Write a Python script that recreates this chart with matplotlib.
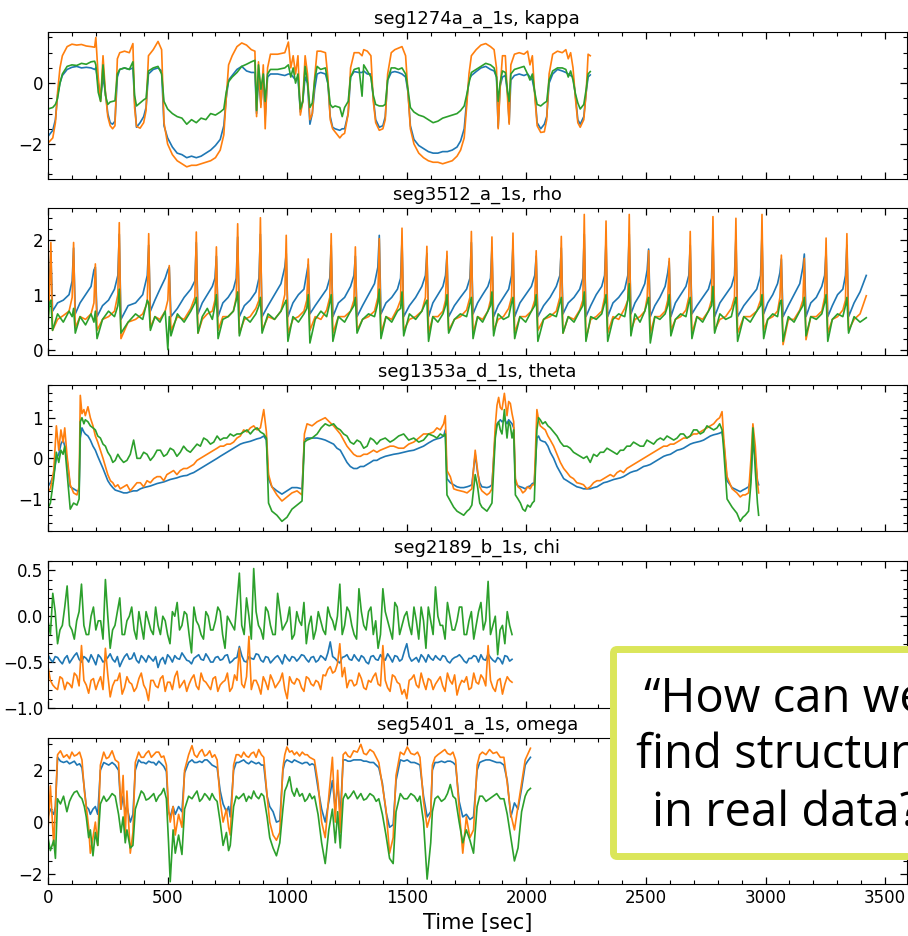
import numpy as np
import matplotlib
matplotlib.use("Agg")
import matplotlib.pyplot as plt
from matplotlib.ticker import MultipleLocator, AutoMinorLocator
from matplotlib.patches import FancyBboxPatch

# ---------------- panel 1: seg1274a_a_1s, kappa ----------------
t1 = [0, 20, 31, 40, 50, 60, 80, 100, 120, 140, 160, 180, 195, 200, 210, 220, 230, 240, 250, 260,
      270, 280, 290, 300, 320, 340, 355, 362, 370, 385, 400, 410, 420, 440, 460, 475, 485, 500, 520, 540,
      560, 580, 600, 620, 640, 660, 680, 700, 720, 735, 745, 755, 770, 790, 810, 830, 850, 865, 872, 880,
      890, 900, 908, 918, 930, 960, 990, 1005, 1015, 1025, 1035, 1045, 1055, 1065, 1075, 1085, 1095, 1105, 1115, 1125,
      1140, 1160, 1170, 1180, 1190, 1200, 1220, 1230, 1240, 1255, 1265, 1280, 1300, 1313, 1320, 1335, 1350, 1360, 1370, 1385,
      1400, 1410, 1420, 1435, 1450, 1465, 1480, 1495, 1505, 1515, 1530, 1550, 1570, 1590, 1610, 1630, 1650, 1670, 1690, 1710,
      1725, 1740, 1750, 1760, 1770, 1790, 1810, 1830, 1850, 1865, 1875, 1882, 1890, 1900, 1912, 1922, 1928, 1935, 1950, 1970,
      1990, 2005, 2015, 2025, 2035, 2045, 2060, 2075, 2085, 2095, 2110, 2130, 2150, 2165, 2175, 2185, 2195, 2205, 2215, 2225,
      2240, 2250, 2258, 2267]
blue1 = [-1.75, -1.55, -1.2, -0.4, 0.0, 0.25, 0.45, 0.52, 0.55, 0.5, 0.52, 0.5, 0.45, 0.5, 0.0, -0.5, 0.2, -0.3, -1.0, -1.3,
         -1.35, -1.25, 0.2, 0.45, 0.5, 0.45, 0.5, -0.6, -1.45, -1.3, -1.1, -0.8, 0.3, 0.45, 0.5, 0.4, -1.4, -1.8, -2.1, -2.3,
         -2.35, -2.45, -2.4, -2.45, -2.4, -2.3, -2.2, -2.05, -1.85, -1.4, -0.5, 0.1, 0.25, 0.45, 0.55, 0.4, 0.35, 0.35, -1.0, 0.2,
         -0.7, 0.3, -1.1, 0.2, 0.3, 0.3, 0.25, 0.3, 0.3, 0.2, 0.1, 0.2, -0.95, -0.6, 0.2, 0.0, -1.35, -1.0, -0.2, 0.3,
         0.35, 0.3, 0.0, -1.1, -1.45, -1.5, -1.55, -1.5, -1.5, -1.0, 0.2, 0.38, 0.35, 0.35, 0.4, 0.3, 0.3, -0.5, -1.2, -1.45,
         -1.4, -1.1, 0.1, 0.35, 0.38, 0.35, 0.3, 0.2, -0.3, -1.4, -1.85, -2.05, -2.15, -2.25, -2.3, -2.3, -2.25, -2.25, -2.2, -2.1,
         -1.9, -1.5, -0.6, 0.1, 0.25, 0.38, 0.5, 0.55, 0.45, 0.4, 0.2, -1.45, -0.1, 0.2, 0.25, -0.4, -1.3, 0.1, 0.25, 0.3,
         0.25, 0.3, 0.2, 0.1, -0.3, -1.3, -1.5, -1.35, -1.1, 0.0, 0.3, 0.45, 0.4, 0.35, 0.3, 0.25, 0.2, -0.4, -1.2, -1.35,
         -1.1, -0.3, 0.2, 0.27]
orange1 = [-1.97, -1.8, -1.3, -0.3, 0.5, 0.9, 1.2, 1.28, 1.25, 1.27, 1.22, 1.2, 1.18, 1.5, 0.2, -0.6, 0.9, -0.3, -1.1, -1.4,
           -1.5, -1.4, 0.8, 1.0, 1.05, 1.0, 1.3, -0.8, -1.42, -1.48, -1.3, -0.9, 0.9, 1.1, 1.37, 1.1, -1.3, -2.0, -2.35, -2.55,
           -2.65, -2.75, -2.7, -2.7, -2.65, -2.6, -2.55, -2.45, -2.2, -1.7, -0.5, 0.6, 0.9, 1.2, 1.32, 1.25, 1.1, 1.05, -1.1, 0.7,
           -0.8, 0.6, -1.5, 0.5, 0.95, 0.95, 1.0, 1.35, 0.5, 0.9, 0.3, 0.9, -1.05, -0.6, 0.9, 0.3, -1.2, -1.0, 0.2, 1.05,
           1.05, 1.0, 0.2, -1.2, -1.5, -1.6, -1.8, -1.7, -1.65, -1.0, 0.5, 1.0, 1.0, 0.9, 1.1, 1.05, 0.9, -0.6, -1.3, -1.55,
           -1.5, -1.2, 0.3, 1.0, 1.1, 1.15, 1.2, 0.9, -0.3, -1.5, -2.0, -2.3, -2.45, -2.55, -2.6, -2.6, -2.65, -2.6, -2.55, -2.4,
           -2.2, -1.8, -0.8, 0.3, 0.9, 1.1, 1.25, 1.3, 1.2, 1.1, 0.5, -1.5, -0.2, 0.9, 0.9, -0.6, -1.35, 0.6, 0.95, 1.0,
           0.95, 1.05, 0.6, 0.9, -0.4, -1.4, -1.62, -1.6, -1.2, 0.3, 0.95, 1.05, 1.0, 1.1, 0.8, 1.0, 0.5, -0.5, -1.3, -1.45,
           -1.2, -0.3, 0.95, 0.9]
green1 = [-0.85, -0.8, -0.7, -0.5, 0.0, 0.3, 0.55, 0.6, 0.58, 0.65, 0.62, 0.7, 0.72, 0.6, -0.3, -0.6, 0.6, -0.4, -0.7, -0.62,
          -0.6, -0.58, 0.3, 0.45, 0.5, 0.45, 0.7, -0.4, -0.75, -0.65, -0.55, -0.5, 0.4, 0.5, 0.55, 0.3, -0.6, -0.85, -1.0, -1.1,
          -1.15, -1.35, -1.2, -1.3, -1.15, -1.2, -1.0, -1.05, -0.95, -0.85, -0.3, 0.05, 0.2, 0.35, 0.55, 0.62, 0.7, 0.75, -0.9, 0.6,
          -0.2, 0.3, -0.6, 0.3, 0.45, 0.45, 0.5, 0.6, 0.2, 0.5, 0.0, 0.3, -0.85, -0.6, 0.55, 0.0, -0.8, -0.65, 0.1, 0.55,
          0.45, 0.5, 0.0, -0.7, -0.8, -0.75, -0.8, -1.1, -0.8, -0.6, 0.2, 0.45, 0.5, -0.43, 0.6, 0.4, 0.2, -0.4, -0.7, -0.75,
          -0.75, -0.7, 0.1, 0.5, 0.5, 0.45, 0.5, 0.3, -0.2, -0.8, -0.95, -1.05, -1.1, -1.2, -1.3, -1.25, -1.15, -1.1, -1.05, -1.0,
          -0.9, -0.75, -0.4, 0.0, 0.35, 0.45, 0.55, 0.65, 0.6, 0.5, 0.2, -0.6, 0.0, 0.4, 0.35, -0.3, -0.6, 0.3, 0.45, 0.5,
          0.55, 0.3, 0.1, 0.3, -0.3, -0.7, -0.75, -0.65, -0.6, 0.1, 0.4, 0.5, 0.5, 0.45, 0.2, 0.4, 0.1, -0.35, -0.65, -0.85,
          -0.7, -0.2, 0.3, 0.38]

# ---------------- panel 2: seg3512_a_1s, rho ----------------
t2 = [0, 6, 12,
      19, 40, 64, 88, 101, 107, 114, 134, 157, 180, 192, 198, 205, 228, 253, 278, 292, 298,
      305, 335, 366, 396, 415, 421, 428, 447, 468, 490, 501, 507, 514, 541, 569, 597, 614, 620,
      627, 645, 666, 687, 698, 704, 711, 731, 753, 775, 787, 793, 800, 821, 845, 869, 882, 888,
      895, 920, 947, 974, 990, 996, 1003, 1024, 1047, 1070, 1082, 1088, 1095, 1117, 1141, 1165, 1178, 1184,
      1191, 1214, 1240, 1265, 1279, 1285, 1292, 1315, 1340, 1365, 1379, 1385, 1392, 1413, 1437, 1461, 1474, 1480,
      1487, 1511, 1537, 1563, 1578, 1584, 1591, 1609, 1630, 1651, 1662, 1668, 1675, 1699, 1724, 1750, 1764, 1770,
      1777, 1796, 1817, 1839, 1850, 1856, 1863, 1882, 1904, 1926, 1938, 1944, 1951, 1973, 1997, 2021, 2035, 2041,
      2048, 2072, 2099, 2125, 2140, 2146, 2153, 2175, 2199, 2223, 2236, 2242, 2249, 2269, 2292, 2315, 2327, 2333,
      2340, 2362, 2386, 2411, 2424, 2430, 2437, 2454, 2475, 2495, 2505, 2511, 2518, 2537, 2558, 2580, 2591, 2597,
      2604, 2623, 2645, 2667, 2679, 2685, 2692, 2713, 2737, 2761, 2774, 2780, 2787, 2809, 2833, 2857, 2870, 2876,
      2883, 2909, 2936, 2963, 2979, 2985, 2992, 3009, 3030, 3050, 3060, 3066, 3073, 3095, 3119, 3143, 3156, 3162,
      3169, 3189, 3212, 3235, 3247, 3253, 3260, 3279, 3301, 3323, 3334, 3340,
      3347, 3370, 3395, 3421]
blue2 = [0.6, 1.3, 1.75,
         0.7, 0.85, 0.9, 1.0, 1.25, 1.85, 0.65, 0.85, 1.0, 1.15, 1.45, 1.5, 0.6, 0.8, 0.9, 1.1, 1.35, 2.1,
         0.55, 0.8, 0.85, 1.0, 1.35, 1.9, 0.7, 0.9, 1.1, 1.3, 1.45, 1.5, 0.6, 0.75, 0.95, 1.1, 1.25, 1.95,
         0.65, 0.85, 1.0, 1.15, 1.3, 1.7, 0.6, 0.85, 0.95, 1.1, 1.3, 2.05, 0.6, 0.8, 0.9, 1.05, 1.3, 2.1,
         0.6, 0.8, 1.0, 1.2, 1.5, 1.75, 0.6, 0.85, 1.0, 1.1, 1.4, 1.55, 0.65, 0.8, 0.95, 1.1, 1.3, 1.9,
         0.6, 0.85, 0.95, 1.15, 1.35, 1.7, 0.6, 0.8, 1.0, 1.2, 1.5, 2.08, 0.65, 0.85, 0.95, 1.1, 1.3, 2.0,
         0.6, 0.8, 0.95, 1.15, 1.35, 1.75, 0.6, 0.85, 1.0, 1.15, 1.35, 1.7, 0.6, 0.8, 0.95, 1.1, 1.3, 1.95,
         0.65, 0.85, 1.0, 1.15, 1.3, 1.85, 0.6, 0.8, 0.95, 1.1, 1.35, 1.9, 0.6, 0.85, 1.0, 1.15, 1.35, 1.7,
         0.6, 0.8, 0.95, 1.15, 1.35, 1.85, 0.65, 0.85, 0.95, 1.1, 1.3, 2.1, 0.6, 0.8, 1.0, 1.15, 1.35, 2.0,
         0.6, 0.85, 0.95, 1.1, 1.35, 2.1, 0.65, 0.85, 1.0, 1.2, 1.45, 1.83, 0.6, 0.8, 0.95, 1.15, 1.4, 1.6,
         0.6, 0.85, 1.0, 1.15, 1.35, 1.9, 0.65, 0.8, 0.95, 1.1, 1.3, 2.1, 0.6, 0.85, 1.0, 1.15, 1.35, 2.05,
         0.6, 0.8, 0.95, 1.1, 1.35, 2.1, 0.65, 0.85, 1.0, 1.2, 1.4, 1.65, 0.6, 0.8, 1.0, 1.2, 1.5, 1.74,
         0.6, 0.85, 0.95, 1.15, 1.35, 1.8, 0.6, 0.8, 1.0, 1.1, 1.35, 1.9,
         0.6, 0.85, 1.05, 1.35]
orange2 = [0.5, 1.0, 1.95,
           0.35, 0.55, 0.62, 0.7, 0.95, 1.95, 0.4, 0.6, 0.55, 0.65, 0.85, 1.56, 0.35, 0.55, 0.6, 0.7, 1.0, 2.31,
           0.2, 0.5, 0.55, 0.65, 0.85, 2.11, 0.4, 0.6, 0.55, 0.7, 0.9, 1.53, 0.35, 0.6, 0.55, 0.75, 0.95, 2.14,
           0.3, 0.55, 0.65, 0.7, 0.9, 1.87, 0.35, 0.6, 0.6, 0.7, 0.95, 2.29, 0.3, 0.55, 0.6, 0.75, 0.9, 2.4,
           0.35, 0.6, 0.55, 0.7, 1.0, 2.08, 0.3, 0.55, 0.6, 0.7, 0.9, 1.65, 0.35, 0.6, 0.55, 0.72, 0.95, 2.11,
           0.3, 0.6, 0.6, 0.7, 0.9, 1.87, 0.35, 0.55, 0.6, 0.7, 0.95, 2.02, 0.3, 0.6, 0.55, 0.75, 0.9, 2.21,
           0.35, 0.55, 0.6, 0.7, 0.95, 1.88, 0.3, 0.6, 0.6, 0.7, 0.9, 1.79, 0.35, 0.55, 0.6, 0.72, 0.95, 2.15,
           0.3, 0.6, 0.55, 0.7, 0.9, 2.05, 0.35, 0.55, 0.6, 0.75, 0.95, 2.12, 0.3, 0.6, 0.6, 0.7, 0.9, 1.8,
           0.35, 0.55, 0.6, 0.7, 0.95, 2.06, 0.3, 0.6, 0.55, 0.72, 0.9, 2.46, 0.2, 0.55, 0.6, 0.7, 0.95, 2.34,
           0.3, 0.6, 0.55, 0.75, 0.9, 2.46, 0.35, 0.55, 0.6, 0.7, 0.95, 1.8, 0.3, 0.6, 0.6, 0.7, 0.9, 1.66,
           0.35, 0.55, 0.6, 0.72, 0.95, 2.15, 0.3, 0.6, 0.55, 0.7, 0.9, 2.42, 0.35, 0.55, 0.6, 0.75, 0.95, 2.39,
           0.3, 0.6, 0.6, 0.7, 0.9, 2.46, 0.35, 0.55, 0.6, 0.7, 0.95, 1.72, 0.09, 0.55, 0.55, 0.72, 0.9, 1.66,
           0.18, 0.6, 0.6, 0.7, 0.95, 2.03, 0.3, 0.55, 0.6, 0.72, 0.9, 2.11,
           0.35, 0.55, 0.65, 0.98]
green2 = [0.45, 0.85, 0.9,
          0.35, 0.65, 0.5, 0.7, 0.6, 0.75, 0.3, 0.6, 0.45, 0.65, 0.5, 0.7, 0.2, 0.55, 0.7, 0.6, 0.8, 1.1,
          0.3, 0.5, 0.65, 0.55, 0.9, 0.85, 0.35, 0.6, 0.5, 0.7, 0.0, 0.6, 0.25, 0.65, 0.5, 0.7, 0.85, 0.95,
          0.3, 0.6, 0.75, 0.55, 0.8, 1.0, 0.2, 0.55, 0.6, 0.7, 0.9, 1.05, 0.25, 0.6, 0.5, 0.65, 0.8, 0.95,
          0.3, 0.65, 0.55, 0.7, 0.85, 0.9, 0.15, 0.6, 0.5, 0.65, 0.75, 1.0, 0.12, 0.55, 0.7, 0.6, 0.85, 1.0,
          0.15, 0.6, 0.5, 0.7, 0.8, 0.95, 0.3, 0.55, 0.65, 0.6, 0.85, 1.1, 0.2, 0.6, 0.5, 0.7, 0.75, 1.05,
          0.25, 0.65, 0.55, 0.7, 0.85, 0.9, 0.15, 0.6, 0.5, 0.65, 0.8, 1.0, 0.3, 0.55, 0.65, 0.6, 0.85, 0.95,
          0.2, 0.6, 0.5, 0.7, 0.8, 1.05, 0.25, 0.65, 0.55, 0.6, 0.85, 0.95, 0.2, 0.6, 0.5, 0.7, 0.8, 1.0,
          0.15, 0.55, 0.65, 0.6, 0.85, 0.95, 0.3, 0.6, 0.5, 0.7, 0.8, 1.05, 0.15, 0.6, 0.55, 0.65, 0.85, 1.0,
          0.15, 0.55, 0.65, 0.6, 0.9, 1.2, 0.25, 0.65, 0.5, 0.7, 0.85, 0.95, 0.12, 0.6, 0.55, 0.65, 0.8, 1.0,
          0.25, 0.55, 0.65, 0.6, 0.85, 0.95, 0.2, 0.6, 0.5, 0.7, 0.8, 1.15, 0.3, 0.65, 0.55, 0.6, 0.85, 0.95,
          0.15, 0.6, 0.5, 0.7, 0.8, 1.0, 0.2, 0.55, 0.65, 0.6, 0.85, 0.9, 0.15, 0.6, 0.5, 0.7, 0.8, 0.95,
          0.25, 0.6, 0.55, 0.65, 0.85, 1.0, 0.15, 0.55, 0.65, 0.6, 0.8, 0.95,
          0.3, 0.6, 0.5, 0.58]

# ---------------- panel 3: seg1353a_d_1s, theta ----------------
t3 = [0, 10, 24, 35, 45, 54, 63, 70, 79, 93, 107, 121, 130, 135, 142, 150, 156, 167, 177, 188,
      198, 208, 219, 230, 240, 250, 261, 271, 281, 292, 302, 316, 330, 344, 358, 372, 386, 400, 414, 428,
      442, 456, 470, 484, 497, 511, 525, 539, 553, 567, 581, 595, 609, 623, 637, 651, 665, 679, 693, 707,
      720, 734, 748, 762, 776, 790, 804, 818, 832, 846, 860, 874, 888, 902, 913, 922, 936, 957, 978, 999,
      1020, 1041, 1062, 1072, 1083, 1104, 1125, 1142, 1159, 1176, 1194, 1208, 1222, 1236, 1250, 1264, 1278, 1292, 1306, 1320,
      1334, 1348, 1361, 1375, 1389, 1410, 1430, 1445, 1466, 1487, 1508, 1529, 1550, 1570, 1591, 1612, 1626, 1640, 1654, 1661,
      1668, 1682, 1696, 1710, 1724, 1738, 1752, 1762, 1772, 1786, 1796, 1805, 1814, 1835, 1846, 1856, 1870, 1877, 1884, 1891,
      1898, 1908, 1914, 1919, 1926, 1933, 1940, 1947, 1954, 1965, 1975, 1985, 1995, 2005, 2016, 2025, 2033, 2044, 2051, 2058,
      2068, 2079, 2090, 2100, 2114, 2128, 2142, 2156, 2170, 2183, 2197, 2211, 2225, 2239, 2253, 2267, 2281, 2295, 2309, 2323,
      2337, 2351, 2365, 2379, 2393, 2406, 2420, 2434, 2448, 2462, 2476, 2490, 2504, 2518, 2532, 2546, 2560, 2574, 2588, 2602,
      2616, 2630, 2644, 2657, 2671, 2685, 2699, 2713, 2727, 2741, 2755, 2769, 2783, 2797, 2808, 2818, 2825, 2839, 2860, 2880,
      2894, 2905, 2915, 2929, 2939, 2947, 2957, 2966, 2971]
blue3 = [-0.69, -0.6, -0.4, 0.0, 0.1, 0.35, 0.45, 0.3, 0.0, -0.7, -0.75, -0.8, -0.8, 0.5, 0.75, 0.65, 0.6, 0.55, 0.45, 0.3,
         0.2, 0.05, -0.1, -0.25, -0.4, -0.55, -0.65, -0.72, -0.78, -0.8, -0.82, -0.85, -0.85, -0.82, -0.8, -0.8, -0.75, -0.72, -0.7, -0.68,
         -0.65, -0.62, -0.6, -0.58, -0.55, -0.52, -0.5, -0.48, -0.45, -0.43, -0.42, -0.38, -0.35, -0.3, -0.25, -0.2, -0.15, -0.1, -0.05, 0.0,
         0.05, 0.1, 0.15, 0.2, 0.25, 0.3, 0.35, 0.38, 0.4, 0.42, 0.45, 0.48, 0.5, 0.55, 0.45, -0.5, -0.7, -0.8, -0.88, -0.8,
         -0.72, -0.72, -0.75, 0.45, 0.5, 0.5, 0.5, 0.48, 0.45, 0.4, 0.35, 0.25, 0.2, 0.05, -0.1, -0.2, -0.25, -0.25, -0.2, -0.2,
         -0.15, -0.1, -0.05, -0.05, 0.0, 0.05, 0.08, 0.1, 0.12, 0.15, 0.18, 0.2, 0.25, 0.3, 0.38, 0.45, 0.48, 0.5, 0.55, 0.7,
         -0.5, -0.6, -0.65, -0.7, -0.72, -0.72, -0.7, -0.68, -0.65, 0.1, -0.35, -0.6, -0.7, -0.72, -0.7, -0.65, 0.6, 0.85, 0.9, 0.95,
         0.9, 0.95, 0.9, 0.85, 0.95, 0.9, 0.85, 0.75, -0.6, -0.68, -0.7, -0.72, -0.75, -0.7, -0.68, -0.62, -0.6, 0.5, 0.55, 0.45,
         0.42, 0.4, 0.3, 0.15, 0.0, -0.2, -0.35, -0.5, -0.55, -0.6, -0.65, -0.7, -0.72, -0.75, -0.75, -0.75, -0.72, -0.7, -0.65, -0.6,
         -0.58, -0.55, -0.52, -0.5, -0.48, -0.45, -0.4, -0.35, -0.32, -0.3, -0.25, -0.2, -0.18, -0.15, -0.1, -0.05, 0.0, 0.05, 0.08, 0.1,
         0.15, 0.2, 0.22, 0.25, 0.3, 0.35, 0.38, 0.4, 0.42, 0.45, 0.5, 0.55, 0.58, 0.6, 0.62, 0.65, 0.4, -0.55, -0.72, -0.78,
         -0.82, -0.78, -0.75, -0.7, -0.5, 0.4, 0.0, -0.55, -0.65]
orange3 = [-0.81, -0.75, -0.3, 0.8, 0.2, 0.7, 0.4, 0.75, 0.1, -0.65, -0.85, -0.9, -0.7, 1.55, 1.1, 1.2, 1.05, 1.27, 1.0, 0.8,
           0.55, 0.4, 0.2, 0.0, -0.2, -0.4, -0.55, -0.6, -0.7, -0.65, -0.75, -0.7, -0.65, -0.8, -0.7, -0.6, -0.6, -0.7, -0.55, -0.6,
           -0.5, -0.45, -0.45, -0.55, -0.4, -0.35, -0.3, -0.4, -0.3, -0.25, -0.25, -0.2, -0.15, -0.05, 0.0, 0.05, 0.1, 0.15, 0.2, 0.25,
           0.3, 0.3, 0.35, 0.35, 0.4, 0.5, 0.55, 0.7, 0.65, 0.75, 0.8, 0.7, 0.75, 1.2, 0.65, -0.4, -0.7, -0.9, -1.05, -0.95,
           -0.85, -0.8, -0.9, 0.6, 0.85, 0.8, 0.9, 0.95, 1.0, 0.9, 0.8, 0.7, 0.6, 0.45, 0.3, 0.2, 0.1, 0.05, 0.05, 0.1,
           0.1, 0.15, 0.2, 0.15, 0.2, 0.25, 0.3, 0.3, 0.25, 0.25, 0.35, 0.4, 0.5, 0.6, 0.6, 0.65, 0.75, 0.7, 0.85, 1.05,
           -0.3, -0.45, -0.75, -0.78, -0.8, -0.82, -0.85, -0.8, -0.75, 0.2, -0.3, -0.7, -0.8, -0.9, -0.85, -0.75, 0.8, 1.3, 1.5, 1.25,
           1.2, 1.6, 1.3, 1.05, 1.4, 1.35, 1.1, 0.9, -0.5, -0.7, -0.75, -0.85, -0.8, -0.7, -0.75, -0.65, -0.65, 1.2, 0.95, 0.8,
           0.75, 0.7, 0.55, 0.45, 0.3, 0.1, -0.1, -0.25, -0.35, -0.45, -0.5, -0.6, -0.62, -0.65, -0.75, -0.7, -0.6, -0.55, -0.55, -0.5,
           -0.45, -0.4, -0.45, -0.35, -0.3, -0.35, -0.25, -0.2, -0.15, -0.1, -0.05, 0.0, 0.05, 0.1, 0.15, 0.2, 0.25, 0.3, 0.3, 0.35,
           0.35, 0.4, 0.45, 0.5, 0.5, 0.55, 0.6, 0.6, 0.65, 0.7, 0.75, 0.8, 0.85, 0.95, 1.0, 1.15, 0.5, -0.45, -0.75, -0.85,
           -0.95, -0.9, -0.9, -0.85, 0.0, 0.85, 0.3, -0.6, -0.85]
green3 = [-1.22, -1.1, -0.5, 0.15, -0.1, 0.2, 0.1, 0.3, -0.3, -1.25, -1.1, -1.15, -1.0, 0.9, 1.0, 0.85, 0.95, 0.9, 0.8, 0.75,
          0.7, 0.55, 0.5, 0.35, 0.3, 0.15, 0.05, -0.1, -0.05, 0.1, 0.0, -0.1, -0.05, 0.1, 0.45, 0.0, 0.0, 0.15, 0.1, -0.05,
          0.05, 0.2, 0.2, 0.05, 0.1, 0.25, 0.2, 0.05, 0.15, 0.3, 0.2, 0.15, 0.25, 0.35, 0.3, 0.5, 0.45, 0.35, 0.4, 0.55,
          0.45, 0.5, 0.5, 0.6, 0.55, 0.6, 0.6, 0.65, 0.7, 0.6, 0.7, 0.75, 0.65, 0.6, 0.5, -1.1, -1.3, -1.4, -1.55, -1.45,
          -1.25, -1.15, -1.05, 0.4, 0.45, 0.5, 0.6, 0.75, 0.85, 0.8, 0.85, 0.75, 0.7, 0.6, 0.55, 0.4, 0.35, 0.45, 0.4, 0.25,
          0.3, 0.5, 0.45, 0.35, 0.45, 0.5, 0.4, 0.45, 0.55, 0.6, 0.45, 0.5, 0.4, 0.45, 0.6, 0.55, 0.5, 0.6, 0.55, 0.6,
          -0.9, -1.05, -1.2, -1.3, -1.35, -1.4, -1.3, -1.25, -1.15, -0.4, -0.7, -1.1, -1.2, -1.3, -1.2, -1.1, 0.5, 0.8, 0.9, 0.7,
          0.6, 1.2, 0.8, 0.5, 0.9, 0.8, 0.5, 0.7, -0.9, -1.0, -1.1, -1.25, -1.3, -1.15, -1.2, -1.1, -1.05, 0.7, 1.0, 0.95,
          0.85, 0.9, 0.8, 0.75, 0.65, 0.55, 0.4, 0.3, 0.3, 0.25, 0.15, 0.1, 0.05, 0.0, 0.05, -0.1, 0.1, 0.05, 0.15, 0.15,
          0.25, 0.2, 0.15, 0.1, 0.2, 0.2, 0.3, 0.3, 0.4, 0.35, 0.3, 0.3, 0.45, 0.4, 0.35, 0.45, 0.5, 0.45, 0.55, 0.5,
          0.45, 0.5, 0.6, 0.6, 0.5, 0.55, 0.7, 0.7, 0.6, 0.65, 0.8, 0.75, 0.7, 0.75, 0.85, 0.7, 0.2, -1.0, -1.2, -1.35,
          -1.55, -1.45, -1.4, -1.3, -0.6, 0.75, -0.3, -1.1, -1.4]

# ---------------- panel 4: seg2189_b_1s, chi ----------------
# values read at t = 0, 20, 40, ... s  and at t = 10, 30, 50, ... s
blue4_a = [-0.42, -0.5, -0.45, -0.52, -0.43, -0.47, -0.4, -0.5, -0.46, -0.42, -0.53, -0.45, -0.48, -0.41, -0.5, -0.55,
           -0.44, -0.47, -0.4, -0.51, -0.46, -0.43, -0.49, -0.56, -0.45, -0.42, -0.5, -0.46, -0.4, -0.48, -0.52, -0.44,
           -0.47, -0.41, -0.5, -0.45, -0.48, -0.43, -0.51, -0.46, -0.33, -0.49, -0.44, -0.47, -0.42, -0.5, -0.45, -0.48,
           -0.43, -0.52, -0.46, -0.44, -0.49, -0.42, -0.47, -0.45, -0.5, -0.43, -0.48, -0.28, -0.46, -0.51, -0.44, -0.47,
           -0.42, -0.49, -0.45, -0.52, -0.43, -0.48, -0.46, -0.41, -0.5, -0.44, -0.47, -0.3, -0.49, -0.45, -0.42, -0.5,
           -0.46, -0.43, -0.48, -0.44, -0.51, -0.45, -0.42, -0.49, -0.46, -0.43, -0.5, -0.47, -0.41, -0.48, -0.45, -0.52,
           -0.44, -0.47]
blue4_b = [-0.47, -0.44, -0.49, -0.46, -0.51, -0.43, -0.47, -0.44, -0.5, -0.47, -0.42, -0.5, -0.45, -0.47, -0.44, -0.49,
           -0.41, -0.46, -0.48, -0.43, -0.5, -0.46, -0.44, -0.48, -0.52, -0.45, -0.43, -0.47, -0.44, -0.49, -0.46, -0.42,
           -0.48, -0.45, -0.5, -0.44, -0.47, -0.42, -0.49, -0.45, -0.43, -0.5, -0.46, -0.41, -0.48, -0.44, -0.51, -0.45,
           -0.47, -0.42, -0.49, -0.45, -0.46, -0.43, -0.5, -0.44, -0.48, -0.45, -0.4, -0.44, -0.49, -0.45, -0.42, -0.48,
           -0.46, -0.43, -0.5, -0.44, -0.47, -0.42, -0.48, -0.45, -0.43, -0.49, -0.38, -0.44, -0.47, -0.5, -0.45, -0.42,
           -0.48, -0.46, -0.43, -0.49, -0.47, -0.44, -0.45, -0.51, -0.46, -0.44, -0.42, -0.48, -0.45, -0.5, -0.47, -0.43,
           -0.49]
orange4_a = [-0.55, -0.75, -0.8, -0.68, -0.72, -0.78, -0.65, -0.32, -0.75, -0.7, -0.8, -0.66, -0.35, -0.88, -0.7, -0.62,
             -0.78, -0.72, -0.82, -0.68, -0.75, -0.92, -0.7, -0.78, -0.65, -0.72, -0.8, -0.6, -0.74, -0.82, -0.68, -0.76,
             -0.62, -0.72, -0.8, -0.66, -0.75, -0.7, -0.82, -0.64, -0.35, -0.78, -0.22, -0.7, -0.76, -0.66, -0.8, -0.7,
             -0.74, -0.62, -0.9, -0.72, -0.68, -0.78, -0.66, -0.74, -0.7, -0.8, -0.65, -0.55, -0.6, -0.3, -0.56, -0.7,
             -0.76, -0.62, -0.78, -0.7, -0.66, -0.74, -0.32, -0.78, -0.64, -0.72, -0.85, -0.9, -0.68, -0.75, -0.62, -0.8,
             -0.7, -0.74, -0.66, -0.82, -0.7, -0.64, -0.76, -0.72, -0.8, -0.62, -0.74, -0.68, -0.32, -0.78, -0.7, -0.85,
             -0.66, -0.72]
orange4_b = [-0.7, -0.78, -0.66, -0.8, -0.74, -0.62, -0.76, -0.7, -0.84, -0.68, -0.72, -0.8, -0.64, -0.76, -0.7, -0.85,
             -0.66, -0.74, -0.78, -0.62, -0.8, -0.7, -0.76, -0.68, -0.82, -0.72, -0.66, -0.78, -0.7, -0.74, -0.64, -0.8,
             -0.7, -0.76, -0.68, -0.82, -0.72, -0.62, -0.78, -0.7, -0.74, -0.66, -0.8, -0.7, -0.85, -0.72, -0.64, -0.78,
             -0.7, -0.8, -0.66, -0.74, -0.7, -0.82, -0.68, -0.76, -0.72, -0.64, -0.58, -0.62, -0.52, -0.66, -0.78, -0.7,
             -0.74, -0.68, -0.8, -0.72, -0.62, -0.76, -0.7, -0.82, -0.66, -0.74, -0.8, -0.7, -0.64, -0.78, -0.72, -0.68,
             -0.8, -0.7, -0.76, -0.62, -0.74, -0.86, -0.7, -0.66, -0.78, -0.72, -0.64, -0.76, -0.7, -0.82, -0.68, -0.74,
             -0.7]
green4_a = [-0.05, 0.25, -0.3, -0.1, 0.33, -0.15, -0.05, 0.35, -0.2, 0.0, -0.15, -0.05, 0.4, -0.35, -0.1, 0.2,
            -0.2, 0.0, -0.15, 0.05, -0.25, -0.05, -0.2, -0.1, 0.0, -0.2, 0.05, 0.15, -0.1, 0.02, -0.4, -0.05,
            -0.2, 0.05, -0.15, -0.05, 0.05, -0.35, -0.05, -0.15, 0.47, -0.2, 0.0, 0.52, -0.1, -0.25, 0.05, -0.2,
            0.25, -0.15, -0.05, -0.25, 0.05, -0.1, -0.3, 0.0, -0.15, -0.05, -0.2, 0.0, -0.15, 0.35, -0.1, 0.05,
            -0.2, 0.3, -0.1, 0.05, -0.2, -0.35, 0.3, -0.05, -0.25, 0.1, -0.1, 0.05, -0.2, -0.05, 0.1, -0.35,
            -0.05, 0.32, -0.1, -0.25, 0.0, -0.15, 0.1, -0.2, -0.05, -0.25, 0.05, -0.15, 0.38, -0.1, -0.42, -0.1,
            0.05, -0.2]
green4_b = [-0.2, 0.05, -0.15, 0.1, -0.1, -0.25, 0.05, -0.1, -0.2, 0.1, -0.05, -0.25, 0.0, -0.15, 0.05, -0.2,
            -0.05, 0.1, -0.25, -0.1, 0.05, -0.15, 0.1, -0.2, -0.05, -0.3, 0.0, -0.15, 0.05, -0.2, 0.1, -0.1,
            -0.25, 0.0, -0.15, 0.1, -0.2, 0.0, -0.1, 0.15, -0.1, 0.2, -0.25, 0.05, -0.15, 0.1, -0.1, -0.2,
            0.05, -0.1, 0.1, -0.2, -0.05, 0.15, -0.1, -0.25, 0.05, -0.15, 0.1, -0.05, 0.0, -0.2, 0.1, -0.1,
            -0.25, 0.05, -0.15, 0.1, -0.05, -0.2, 0.05, -0.15, 0.15, -0.2, 0.0, -0.1, 0.1, -0.25, -0.05, 0.1,
            -0.2, 0.0, -0.1, 0.15, -0.15, -0.05, 0.1, -0.2, 0.05, -0.1, 0.15, -0.05, -0.2, 0.0, -0.15, -0.3,
            -0.1]

# ---------------- panel 5: seg5401_a_1s, omega ----------------
t5 = [0, 10, 24, 31, 40, 52, 65, 79, 90, 100, 110, 121, 132, 142, 152, 160, 170, 177, 188, 198,
      208, 219, 233, 244, 254, 268, 281, 295, 305, 314, 323, 330, 344, 355, 365, 379, 390, 400, 410, 421,
      432, 442, 452, 463, 474, 484, 495, 504, 511, 523, 532, 546, 560, 571, 588, 602, 612, 623, 634, 644,
      655, 665, 676, 686, 697, 707, 720, 732, 746, 755, 762, 776, 787, 797, 808, 818, 829, 839, 850, 860,
      870, 881, 892, 902, 916, 927, 941, 955, 969, 982, 990, 999, 1010, 1020, 1030, 1040, 1052, 1063, 1074, 1084,
      1094, 1104, 1114, 1129, 1144, 1159, 1174, 1189, 1201, 1211, 1222, 1234, 1244, 1254, 1264, 1278, 1293, 1308, 1320, 1331,
      1346, 1361, 1372, 1383, 1398, 1413, 1428, 1443, 1455, 1473, 1488, 1502, 1517, 1532, 1545, 1555, 1570, 1585, 1600, 1607,
      1618, 1630, 1645, 1659, 1670, 1682, 1693, 1704, 1719, 1734, 1749, 1764, 1779, 1794, 1805, 1816, 1831, 1846, 1861, 1876,
      1891, 1906, 1920, 1935, 1950, 1965, 1980, 1995, 2005, 2017]
blue5 = [0.2, 0.5, 0.3, 0.6, 2.5, 2.35, 2.3, 2.35, 2.25, 2.3, 2.35, 2.2, 2.25, 2.1, 1.3, 0.6, 0.5, 0.3, 0.5, 0.6,
         0.3, 2.0, 2.3, 2.25, 2.2, 2.3, 2.2, 2.0, 0.5, 1.0, 0.4, 0.6, 0.0, 0.3, 2.0, 2.4, 2.3, 2.3, 2.25, 2.35,
         2.3, 2.3, 2.2, 2.35, 2.25, 2.15, 1.95, 0.4, 0.2, 0.6, 0.3, 0.6, 0.4, 1.9, 2.3, 2.4, 2.3, 2.3, 2.35, 2.3,
         2.4, 2.4, 2.3, 2.2, 2.15, 2.1, 1.2, 0.7, 0.4, 0.6, 0.2, 2.0, 2.3, 2.3, 2.35, 2.4, 2.3, 2.25, 2.35, 2.3,
         2.25, 2.3, 2.2, 2.2, 1.0, 0.6, 0.4, 0.0, 0.05, 2.0, 2.3, 2.4, 2.35, 2.3, 2.4, 2.35, 2.3, 2.25, 2.3, 2.3,
         2.2, 2.25, 2.2, 1.3, 0.5, 0.0, 0.8, 1.6, 0.5, 1.5, 0.3, 2.4, 2.4, 2.35, 2.35, 2.4, 2.4, 2.4, 2.35, 2.35,
         2.3, 2.3, 2.2, 2.1, 1.5, 0.4, -0.2, -0.1, 1.6, 2.4, 2.35, 2.4, 2.3, 2.3, 2.25, 2.2, 1.0, 0.2, 0.4, 2.0,
         2.3, 2.3, 2.35, 2.3, 2.35, 2.35, 2.3, 2.2, 0.8, 0.2, 0.3, 0.1, 0.2, 2.0, 2.3, 2.35, 2.4, 2.4, 2.35, 2.3,
         2.3, 2.2, 1.6, 0.2, 0.74, 0.5, 1.3, 2.2, 2.35, 2.5]
orange5 = [-0.3, 1.4, -0.9, 0.6, 2.6, 2.75, 2.5, 2.6, 2.45, 2.7, 2.55, 2.6, 2.7, 2.4, 1.2, 0.6, -0.2, -1.2, -0.6, 0.0,
           -0.9, 2.2, 2.7, 2.45, 2.5, 2.75, 2.4, 2.3, 0.5, 1.8, -0.5, 1.2, -1.2, -0.4, 2.3, 2.7, 2.5, 2.5, 2.65, 2.75,
           2.5, 2.6, 2.7, 2.7, 2.5, 2.55, 2.2, 0.5, 0.0, 0.6, -0.5, 0.3, -0.2, 2.0, 2.6, 2.95, 2.6, 2.5, 2.7, 2.8,
           2.55, 2.6, 2.75, 2.5, 2.6, 2.4, 0.8, 0.0, 0.5, -0.2, -0.5, 2.2, 2.6, 2.6, 2.5, 2.7, 2.55, 2.5, 2.65, 2.7,
           2.5, 2.8, 2.6, 2.5, 1.0, 0.0, -0.5, -0.7, -0.4, 2.1, 2.6, 2.9, 2.7, 2.75, 2.6, 2.7, 2.55, 2.7, 2.6, 2.6,
           2.5, 2.45, 2.4, 1.5, 0.0, -0.6, 1.0, 2.5, 0.0, 2.0, -0.4, 2.6, 2.7, 2.55, 2.5, 2.75, 2.7, 3.0, 2.65, 2.6,
           2.8, 2.7, 2.5, 2.3, 1.4, 0.5, -1.2, -0.6, 1.8, 2.7, 2.6, 2.9, 2.65, 2.6, 2.7, 2.5, 0.8, -0.2, 0.3, 2.2,
           2.5, 2.6, 2.7, 2.8, 2.65, 2.6, 2.7, 2.4, 0.5, -1.2, 0.2, -0.6, -0.3, 2.2, 2.6, 2.7, 2.6, 2.8, 2.65, 2.7,
           2.5, 2.5, 1.5, 0.3, -0.3, 0.6, 1.5, 2.4, 2.6, 2.85]
green5 = [-0.6, -1.1, -0.7, -1.4, 0.9, 0.7, 1.0, 0.4, 0.8, 1.0, 1.15, 1.2, 1.0, 0.9, 0.6, 0.2, -0.6, -0.3, -1.3, -0.4,
          -0.9, 0.7, 1.0, 0.8, 0.9, 1.1, 1.0, 0.3, -0.4, 0.2, -0.8, -0.3, -1.0, -0.9, 0.5, 0.9, 1.2, 1.1, 0.85, 0.9,
          1.0, 1.1, 0.8, 1.0, 1.1, 1.3, 0.9, -0.8, -2.3, -0.3, -1.2, -0.5, -1.25, 0.5, 1.0, 0.9, 1.05, 1.2, 0.8, 0.9,
          1.1, 1.0, 0.85, 1.1, 0.9, 0.8, 0.0, -0.9, -0.4, -1.1, -0.9, 0.6, 1.0, 0.9, 1.0, 1.1, 0.8, 1.0, 0.9, 1.2,
          1.0, 0.9, 1.1, 1.0, 0.2, -0.6, -1.0, -1.3, -0.8, 0.5, 1.2, 1.4, 1.75, 1.2, 1.0, 1.3, 1.0, 1.1, 0.8, 0.9,
          1.1, 0.9, 1.0, 0.3, -0.8, -1.6, -0.3, 0.5, -0.8, 0.4, -1.0, 0.9, 1.1, 0.9, 1.0, 1.2, 0.9, 1.1, 0.85, 0.9,
          1.1, 1.0, 0.8, 0.9, 0.3, -0.5, -1.4, -1.6, 0.4, 1.1, 0.9, 0.9, 1.1, 1.0, 0.8, 1.0, 0.0, -2.2, -0.8, 0.4,
          0.9, 1.0, 0.8, 0.9, 1.1, 1.45, 1.0, 0.9, 0.0, -0.8, -0.3, -0.7, -1.2, 0.6, 1.0, 1.0, 0.8, 0.9, 1.0, 1.1,
          0.9, 0.9, 0.3, -0.6, -1.5, -1.0, 0.4, 1.0, 1.2, 1.3]

titles = ["seg1274a_a_1s, kappa", "seg3512_a_1s, rho", "seg1353a_d_1s, theta",
          "seg2189_b_1s, chi", "seg5401_a_1s, omega"]
ylims = [(-3.14, 1.68), (-0.1, 2.57), (-1.80, 1.81), (-1.0, 0.6), (-2.40, 3.26)]
ysteps = [2, 1, 1, 0.5, 2]

callout_lines = ["\u201cHow can we", "find structure", "in real data?\u201d"]


def merge(a, b, step=20):
    # a is sampled at 0, step, 2*step...; b halfway between
    t = np.concatenate([np.arange(len(a)) * step, np.arange(len(b)) * step + step / 2])
    v = np.concatenate([a, b])
    order = np.argsort(t)
    return t[order], v[order]


tb4, vb4 = merge(blue4_a, blue4_b)
to4, vo4 = merge(orange4_a, orange4_b)
tg4, vg4 = merge(green4_a, green4_b)

panels = [
    ((t1, blue1), (t1, orange1), (t1, green1)),
    ((t2, blue2), (t2, orange2), (t2, green2)),
    ((t3, blue3), (t3, orange3), (t3, green3)),
    ((tb4, vb4), (to4, vo4), (tg4, vg4)),
    ((t5, blue5), (t5, orange5), (t5, green5)),
]

fig, axes = plt.subplots(5, 1, figsize=(9.08, 9.36), dpi=100, sharex=True)
fig.subplots_adjust(left=48 / 908, right=906.7 / 908, top=1 - 32 / 936,
                    bottom=1 - 884.3 / 936, hspace=0.2025)

for ax, series, title, ylim, ystep in zip(axes, panels, titles, ylims, ysteps):
    for (t, v), c in zip(series, ["C0", "C1", "C2"]):
        ax.plot(t, v, color=c, lw=1.2)
    ax.set_title(title, fontsize=13, pad=6)
    ax.set_ylim(*ylim)
    ax.yaxis.set_major_locator(MultipleLocator(ystep))
    ax.yaxis.set_minor_locator(AutoMinorLocator())
    ax.xaxis.set_major_locator(MultipleLocator(500))
    ax.xaxis.set_minor_locator(AutoMinorLocator())
    ax.tick_params(which="both", direction="in", top=True, right=True, labelsize=12)
    ax.tick_params(which="major", length=5, width=0.9)
    ax.tick_params(which="minor", length=2.8, width=0.8)

axes[-1].set_xlim(0, 3590)
axes[-1].set_xlabel("Time [sec]", fontsize=15)

# callout box, partly outside the figure on the right
box = FancyBboxPatch((613.5 / 908, 1 - 856.5 / 936), (990 - 613.5) / 908, (856.5 - 649.5) / 936,
                     boxstyle="round,pad=0,rounding_size=0.004", transform=fig.transFigure,
                     facecolor="white", edgecolor="#dbe65a", linewidth=5, zorder=10)
fig.add_artist(box)
for line, x_px, base_px in zip(callout_lines, [644, 636, 652], [712, 768, 826]):
    fig.text(x_px / 908, 1 - base_px / 936, line, fontsize=34, family="Open Sans",
             ha="left", va="baseline", zorder=11)

fig.savefig("out.png", dpi=100)
